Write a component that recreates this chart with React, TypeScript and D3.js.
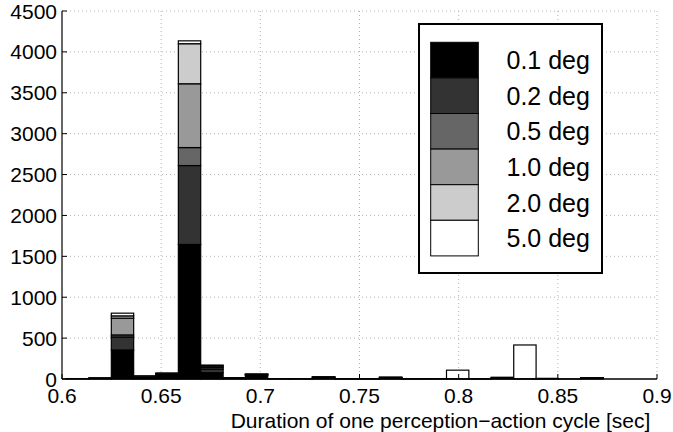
import React from "react";
import * as d3 from "d3";

const binCenters = [
  0.6079, 0.6192, 0.6305, 0.6417, 0.653, 0.6643, 0.6756, 0.6868, 0.6981, 0.7094,
  0.7206, 0.7319, 0.7432, 0.7545, 0.7657, 0.777, 0.7883, 0.7995, 0.8108, 0.8221,
  0.8334, 0.8446, 0.8559, 0.8672, 0.8785, 0.8897,
];
const binWidth = 0.01127;

const seriesNames = ["0.1 deg", "0.2 deg", "0.5 deg", "1.0 deg", "2.0 deg", "5.0 deg"];
const seriesColors = ["#000000", "#333333", "#666666", "#999999", "#cccccc", "#ffffff"];

const deg01 = [0, 12, 355, 20, 50, 1645, 77, 10, 45, 2, 2, 15, 1, 1, 12, 1, 2, 0, 1, 10, 0, 0, 1, 8, 0, 0];
const deg02 = [5, 3, 159, 8, 12, 965, 42, 3, 10, 1, 1, 5, 1, 1, 5, 1, 1, 0, 1, 5, 0, 0, 0, 4, 0, 0];
const deg05 = [0, 0, 25, 2, 3, 220, 20, 1, 2, 0, 0, 2, 0, 0, 2, 0, 0, 0, 0, 2, 0, 0, 0, 1, 0, 0];
const deg10 = [0, 0, 205, 3, 3, 780, 18, 1, 2, 0, 0, 2, 0, 0, 2, 0, 0, 0, 0, 2, 0, 0, 0, 1, 0, 0];
const deg20 = [0, 0, 28, 2, 2, 490, 8, 0, 1, 0, 0, 1, 0, 0, 1, 0, 0, 3, 0, 1, 3, 2, 0, 1, 0, 0];
const deg50 = [0, 0, 33, 2, 2, 35, 5, 0, 0, 0, 0, 1, 0, 0, 0, 0, 0, 105, 0, 0, 413, 6, 0, 0, 0, 0];

const seriesValues = [deg01, deg02, deg05, deg10, deg20, deg50];

const xTicks = [0.6, 0.65, 0.7, 0.75, 0.8, 0.85, 0.9];
const yTicks = [0, 500, 1000, 1500, 2000, 2500, 3000, 3500, 4000, 4500];
const xLabel = "Duration of one perception\u2212action cycle [sec]";

const W = 673;
const H = 432;
const left = 62;
const right = 657;
const top = 11;
const bottom = 379;
const font = "'Liberation Sans', Arial, Helvetica, sans-serif";

export default function App() {
  const x = d3.scaleLinear().domain([0.6, 0.9]).range([left, right]);
  const y = d3.scaleLinear().domain([0, 4500]).range([bottom, top]);

  const rows = binCenters.map((c, i) => {
    const o: any = { c };
    seriesNames.forEach((s, k) => (o[s] = seriesValues[k][i]));
    return o;
  });
  const stacked = d3.stack<any>().keys(seriesNames)(rows);

  const legX = 419;
  const legY = 24;
  const legW = 183;
  const legH = 249;
  const swX = 430.7;
  const swY = 42.3;
  const swW = 47.6;
  const swH = 35.6;

  return (
    <svg width={W} height={H} style={{ position: "absolute", left: 0, top: 0, background: "#fff" }} fontFamily={font}>
      <rect x={0} y={0} width={W} height={H} fill="#fff" />
      {/* grid */}
      {xTicks.slice(1).map((t) => (
        <line key={"gx" + t} x1={x(t)} x2={x(t)} y1={top} y2={bottom} stroke="#b4b4b4" strokeWidth={1} strokeDasharray="1,3" />
      ))}
      {yTicks.slice(1).map((t) => (
        <line key={"gy" + t} x1={left} x2={right} y1={y(t)} y2={y(t)} stroke="#b4b4b4" strokeWidth={1} strokeDasharray="1,3" />
      ))}
      {/* bars */}
      {stacked.map((layer, k) =>
        layer.map((d, i) => {
          const h = y(d[0]) - y(d[1]);
          if (seriesValues[k][i] <= 0) return null;
          return (
            <rect
              key={k + "-" + i}
              x={x(binCenters[i] - binWidth / 2)}
              width={x(binCenters[i] + binWidth / 2) - x(binCenters[i] - binWidth / 2)}
              y={y(d[1])}
              height={h}
              fill={seriesColors[k]}
              stroke="#000"
              strokeWidth={1.2}
            />
          );
        })
      )}
      {/* axes */}
      <line x1={left} x2={right} y1={bottom} y2={bottom} stroke="#000" strokeWidth={1.5} />
      <line x1={left} x2={left} y1={top} y2={bottom} stroke="#000" strokeWidth={1.2} />
      {xTicks.map((t) => (
        <g key={"xt" + t}>
          <line x1={x(t)} x2={x(t)} y1={bottom} y2={bottom - 5} stroke="#000" strokeWidth={1} />
          <text x={x(t)} y={403} textAnchor="middle" fontSize={21} fill="#000">
            {String(t)}
          </text>
        </g>
      ))}
      {yTicks.map((t) => (
        <g key={"yt" + t}>
          <line x1={left} x2={left + 5} y1={y(t)} y2={y(t)} stroke="#000" strokeWidth={1} />
          <text x={57} y={y(t) + 7.5} textAnchor="end" fontSize={21} fill="#000">
            {String(t)}
          </text>
        </g>
      ))}
      <text x={440.5} y={428} textAnchor="middle" fontSize={21} fill="#000">
        {xLabel}
      </text>
      {/* legend */}
      <rect x={legX} y={legY} width={legW} height={legH} fill="#fff" stroke="#000" strokeWidth={2} />
      {seriesNames.map((s, k) => (
        <g key={"lg" + s}>
          <rect x={swX} y={swY + k * swH} width={swW} height={swH} fill={seriesColors[k]} stroke="#000" strokeWidth={1} />
          <text x={506.5} y={swY + k * swH + swH / 2 + 9} fontSize={25} fill="#000">
            {s}
          </text>
        </g>
      ))}
    </svg>
  );
}
